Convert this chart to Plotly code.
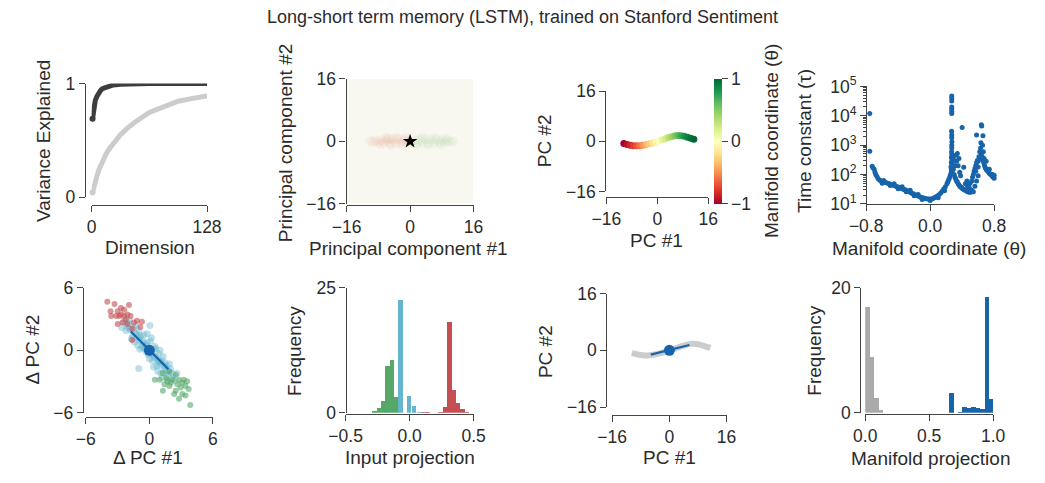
import plotly.graph_objects as go

W, H = 1045, 483

# ---------------- data ----------------
# Panel 1: variance explained
dims = [1, 2, 3, 4, 6, 8, 10, 12, 16, 20, 24, 32, 40, 48, 64, 80, 96, 112, 128]
var_lstm = [0.69, 0.76, 0.81, 0.85, 0.89, 0.92, 0.94, 0.955, 0.97, 0.98, 0.988, 0.995, 0.998, 0.999, 1.0, 1.0, 1.0, 1.0, 1.0]
var_shuffled = [0.04, 0.08, 0.11, 0.14, 0.19, 0.24, 0.28, 0.31, 0.38, 0.43, 0.47, 0.55, 0.61, 0.66, 0.745, 0.80, 0.845, 0.87, 0.89]

# Panel 2: faint state clouds in PC space
cloud_neg_x = [-10.0, -9.3, -8.6, -7.9, -7.2, -6.5, -5.8, -5.1, -4.4, -3.7, -3.0, -2.3, -1.6, -0.9,
               -0.3, -6.0, -4.8, -3.4, -2.0, -1.0, -7.4, -5.4]
cloud_neg_y = [0.0, -0.2, 0.2, -0.3, 0.3, -0.4, 0.3, -0.5, 0.4, -0.5, 0.5, -0.4, 0.4, -0.3,
               0.1, 0.9, -1.0, 1.0, -0.9, 0.8, -0.8, 0.7]
cloud_pos_x = [0.4, 1.1, 1.8, 2.5, 3.2, 3.9, 4.6, 5.3, 6.0, 6.7, 7.4, 8.1, 8.8, 9.5, 10.2,
               10.9, 1.5, 3.0, 4.5, 6.2, 7.8, 9.0]
cloud_pos_y = [-0.3, 0.3, -0.4, 0.4, -0.5, 0.5, -0.4, 0.4, -0.5, 0.4, -0.3, 0.3, -0.3, 0.2,
               -0.2, 0.1, -1.0, 1.0, -0.9, 0.9, -0.8, 0.7]

# Panel 3 / 7: line attractor in PC space
curve_x = [-10.5, -9.5, -8.5, -7.5, -6.5, -5.5, -4.5, -3.5, -2.5, -1.5, -0.5, 0.5,
           1.5, 2.5, 3.5, 4.5, 5.5, 6.5, 7.5, 8.5, 9.5, 10.5, 11.5]
curve_y = [-0.7, -1.0, -1.25, -1.4, -1.45, -1.4, -1.25, -1.05, -0.8, -0.5, -0.2, 0.15,
           0.5, 0.85, 1.2, 1.5, 1.75, 1.85, 1.8, 1.6, 1.3, 1.0, 0.7]
curve_theta = [-1.0, -0.92, -0.84, -0.76, -0.68, -0.58, -0.48, -0.38, -0.28, -0.18, -0.08, 0.02,
               0.12, 0.22, 0.32, 0.42, 0.52, 0.62, 0.72, 0.8, 0.88, 0.95, 1.0]

# Panel 4: time constants along manifold
tau_x = [-0.755, -0.755, -0.725, -0.715, -0.70, -0.69, -0.68, -0.665, -0.65, -0.63, -0.61, -0.59,
         -0.57, -0.55, -0.53, -0.51, -0.49, -0.47, -0.45, -0.43, -0.41, -0.39, -0.37, -0.35,
         -0.33, -0.31, -0.29, -0.27, -0.25, -0.23, -0.21, -0.19, -0.17, -0.15, -0.13, -0.11,
         -0.09, -0.07, -0.05, -0.03, -0.01, 0.01, 0.03, 0.05, 0.07, 0.09, 0.11, 0.13, 0.15,
         0.17, 0.19, 0.21, 0.22, 0.23, 0.24, 0.25, 0.26,
         -0.60, -0.50, -0.40, -0.30, -0.20, -0.10, 0.00, 0.10, 0.18, -0.58, -0.45, -0.35, -0.25, -0.15,
         0.27, 0.27, 0.27, 0.27, 0.27, 0.27, 0.27, 0.268, 0.27, 0.27, 0.272, 0.27, 0.27, 0.268,
         0.27, 0.266, 0.272, 0.264, 0.275, 0.26, 0.28, 0.265, 0.275,
         0.29, 0.29, 0.30, 0.30, 0.31, 0.31, 0.32, 0.32, 0.33, 0.33, 0.34, 0.34, 0.35, 0.35,
         0.36, 0.36, 0.37, 0.37, 0.38, 0.38, 0.39, 0.40, 0.40, 0.41, 0.42, 0.42, 0.43, 0.44,
         0.44, 0.45, 0.46, 0.47, 0.47, 0.48, 0.49, 0.49, 0.50, 0.51, 0.52, 0.53, 0.54,
         0.46, 0.48, 0.50, 0.52, 0.53, 0.54, 0.55, 0.56, 0.57, 0.57, 0.58, 0.58, 0.59, 0.60,
         0.60, 0.61, 0.62, 0.62, 0.63, 0.635, 0.64, 0.645, 0.64, 0.65, 0.655, 0.66, 0.66,
         0.665, 0.67, 0.675, 0.68, 0.69, 0.70, 0.70, 0.71, 0.72, 0.73, 0.74, 0.74, 0.75,
         0.76, 0.77, 0.78, 0.78, 0.79, 0.80, 0.80, 0.56, 0.58, 0.60]
tau_y = [12000, 620, 190, 170, 150, 120, 100, 85, 72, 64, 60, 56,
         55, 52, 50, 48, 46, 44, 42, 40, 38, 37, 35, 33,
         31, 30, 28, 27, 25, 23, 22, 20.5, 19.5, 18.5, 17.5, 16.5,
         16, 15.5, 15, 14.5, 14.5, 14.5, 15, 16, 17, 18.5, 20.5, 23, 27,
         32, 38, 48, 55, 65, 75, 90, 110,
         50, 42, 33, 26, 19, 14, 13, 16, 28, 62, 48, 38, 29, 21,
         47000, 40000, 32000, 20000, 17000, 14000, 12000, 3000, 2200, 1800, 1300, 1000, 800, 600,
         480, 380, 300, 250, 220, 180, 160, 140, 130,
         400, 150, 300, 100, 200, 80, 450, 70, 280, 60, 520, 55, 200, 48,
         350, 45, 120, 40, 90, 38, 36, 4000, 34, 33, 178, 31, 30, 48,
         29, 28, 27, 40, 26, 26, 35, 25, 25, 26, 29, 26, 26,
         60, 45, 50, 60, 80, 100, 130, 160, 200, 130, 2200, 250, 300, 280,
         180, 400, 350, 600, 800, 1200, 5000, 4500, 500, 400, 1000, 2100, 300,
         600, 250, 350, 200, 170, 280, 150, 140, 130, 125, 150, 110, 105,
         100, 95, 100, 85, 80, 75, 95, 40, 60, 90]

# Panel 5: state changes in PC space
dpc_all_x = [-2.4, -2.0, -1.8, -1.5, -1.2, -1.0, -0.8, -0.6, -0.4, -0.2, 0.0, 0.2, 0.4, 0.6, 0.8, 1.0,
             1.2, 1.4, 1.6, 1.8, 2.0, 2.2, 2.4, -1.6, -1.3, -1.0, -0.7, -0.5, -0.3, 0.1, 0.3, 0.5,
             0.7, 0.9, 1.1, 1.3, 1.5, 1.7, -2.2, -1.9, -0.9, 0.0, 0.2, 1.0, -2.6, -0.1, 0.6, -1.1,
             0.8, 2.6, 1.9, -1.4, -0.2, 0.4, 1.2, -1.0, 0.06, -2.1, -1.7, -0.5, 0.9, 1.6, 2.1,
             -1.4, -0.9, -0.3, 0.3, 0.9, 1.4, -1.9, -1.1, -0.6, 0.5, 1.1, 1.8]
dpc_all_y = [2.8, 2.6, 2.0, 2.2, 1.6, 1.0, 1.4, 0.9, 0.4, 0.7, 0.2, -0.3, 0.1, -0.6, -0.9, -1.4,
             -1.0, -1.8, -2.0, -2.4, -1.8, -2.6, -2.9, 1.4, 2.4, 1.9, 0.3, 1.5, -0.1, 0.9, -1.0, 0.4,
             -1.5, -0.3, -2.2, -0.6, -1.2, -2.9, 1.9, 2.9, 0.1, -0.8, 1.2, 0.0, 2.2, -0.4, 0.2, 0.5,
             -2.0, -2.2, -1.3, 0.8, 1.6, -1.6, -2.6, -1.74, 2.38, 2.3, 1.1, 0.2, -1.0, -1.5, -2.2,
             1.7, 1.2, 0.5, -0.4, -1.1, -1.5, 2.1, 1.3, 0.7, -0.7, -1.2, -2.0]
dpc_neg_x = [-3.97, -3.29, -2.99, -3.66, -2.68, -2.38, -1.92, -1.77, -2.23, -2.53, -2.99, -2.07,
             -1.46, -1.62, -1.16, -0.70, -1.62, -0.85, -2.07, -2.84, -3.14, -2.68, -2.38, -3.60]
dpc_neg_y = [4.67, 4.45, 3.75, 3.75, 4.06, 3.90, 4.36, 3.29, 2.99, 2.68, 2.53, 2.53,
             2.68, 2.07, 2.84, 2.75, 1.00, 2.23, 3.45, 3.29, 3.29, 3.45, 3.29, 3.29]
dpc_pos_x = [0.52, 1.28, 1.89, 2.50, 2.81, 3.11, 3.42, 3.72, 3.11, 2.50, 1.89, 1.43, 0.98,
             1.28, 2.20, 1.59, 2.65, 3.42, 3.87, 2.81, 3.26, 2.35, 2.04, 1.74, 2.96, 3.57]
dpc_pos_y = [-2.81, -2.20, -2.04, -2.35, -2.81, -3.11, -3.42, -3.72, -4.18, -3.87, -3.42, -3.26,
             -2.81, -3.87, -2.81, -2.65, -3.26, -4.33, -5.25, -4.64, -2.81, -4.18, -3.11, -2.96,
             -3.57, -2.96]
readout_x = [-1.75, 1.8]
readout_y = [1.8, -1.8]

# Panel 6: input projection histograms
hist_pos_x = [-0.278, -0.243, -0.208, -0.175, -0.14, -0.107]
hist_pos_h = [0.4, 1.0, 2.4, 9.5, 10.6, 3.3]
hist_neu_x = [-0.075, -0.04, -0.006, 0.031, 0.069]
hist_neu_h = [22.7, 0.0, 3.4, 1.5, 0.2]
hist_neg_x = [0.107, 0.142, 0.239, 0.274, 0.31, 0.345, 0.377, 0.41, 0.445]
hist_neg_h = [0.2, 0.2, 0.3, 1.3, 18.3, 4.6, 2.0, 0.8, 0.25]

# Panel 7: input direction in PC space
input_x = [-5.2, 5.6]
input_y = [-1.2, 1.5]

# Panel 8: manifold projection histograms
proj_shuf_x = [0.018, 0.053, 0.088, 0.124]
proj_shuf_h = [17.0, 8.9, 2.4, 0.5]
proj_real_x = [0.676, 0.742, 0.777, 0.812, 0.848, 0.883, 0.918, 0.953, 0.986]
proj_real_h = [3.2, 0.15, 0.9, 0.77, 0.9, 0.77, 0.6, 18.5, 2.3]

# ---------------- styling ----------------
FONT = "Liberation Sans, Arial, Helvetica, sans-serif"
TXT = "#2b2b2b"
AX = "#444444"
BLUE = "#1764ab"
RED = "#c44e52"
GREEN = "#55a868"
CYAN = "#64b5cd"
TICK_SIZE = 17.5
LABEL_SIZE = 19


def xdom(a, b):
    return [a / W, b / W]


def ydom(top, bottom):
    return [1 - bottom / H, 1 - top / H]


def axis(dom, rng, pos, tickvals, ticktext=None, **kw):
    d = dict(domain=dom, range=rng, anchor="free", position=pos, showline=True,
             linecolor=AX, linewidth=1.3, ticks="outside", ticklen=6, tickwidth=1.3,
             tickcolor=AX, tickvals=tickvals,
             tickfont=dict(size=TICK_SIZE, color=TXT, family=FONT),
             showgrid=False, zeroline=False, fixedrange=True)
    if ticktext is not None:
        d["ticktext"] = ticktext
    d.update(kw)
    return d


fig = go.Figure()

# Panel 1
fig.add_trace(go.Scatter(x=dims, y=var_shuffled, mode="lines", xaxis="x", yaxis="y",
                         line=dict(color="#cccccc", width=5), cliponaxis=False))
fig.add_trace(go.Scatter(x=dims[:1], y=var_shuffled[:1], mode="markers", xaxis="x", yaxis="y",
                         marker=dict(color="#cccccc", size=6), cliponaxis=False))
fig.add_trace(go.Scatter(x=dims, y=var_lstm, mode="lines", xaxis="x", yaxis="y",
                         line=dict(color="#3d3d3d", width=5), cliponaxis=False))
fig.add_trace(go.Scatter(x=dims[:1], y=var_lstm[:1], mode="markers", xaxis="x", yaxis="y",
                         marker=dict(color="#3d3d3d", size=6), cliponaxis=False))

# Panel 2
fig.add_trace(go.Scatter(x=cloud_neg_x, y=cloud_neg_y, mode="markers", xaxis="x2", yaxis="y2",
                         marker=dict(color="#e07a5a", size=10, opacity=0.06, line=dict(width=0))))
fig.add_trace(go.Scatter(x=cloud_pos_x, y=cloud_pos_y, mode="markers", xaxis="x2", yaxis="y2",
                         marker=dict(color="#7fa86a", size=10, opacity=0.05, line=dict(width=0))))
fig.add_trace(go.Scatter(x=[0], y=[0], mode="markers", xaxis="x2", yaxis="y2",
                         marker=dict(color="black", size=11, symbol="star")))

# Panel 3
fig.add_trace(go.Scatter(x=curve_x, y=curve_y, mode="markers", xaxis="x3", yaxis="y3",
                         marker=dict(color=curve_theta, colorscale="RdYlGn", cmin=-1, cmax=1, size=7,
                                     line=dict(width=0),
                                     colorbar=dict(x=719 / W, xanchor="left", y=1 - 201 / H,
                                                   yanchor="bottom", len=131 / H, lenmode="fraction",
                                                   thickness=8, xpad=0, ypad=0, outlinewidth=0,
                                                   tickvals=[-1, 0, 1], ticktext=["\u22121", "0", "1"],
                                                   ticks="outside", ticklen=6, tickwidth=1.3,
                                                   tickcolor=AX,
                                                   tickfont=dict(size=TICK_SIZE, color=TXT, family=FONT)),
                                     showscale=True),
                         cliponaxis=False))

# Panel 4
fig.add_trace(go.Scatter(x=tau_x, y=tau_y, mode="markers", xaxis="x4", yaxis="y4",
                         marker=dict(color=BLUE, size=5, line=dict(width=0)), cliponaxis=False))

# Panel 5
fig.add_trace(go.Scatter(x=dpc_all_x, y=dpc_all_y, mode="markers", xaxis="x5", yaxis="y5",
                         marker=dict(color=CYAN, size=7, opacity=0.42, line=dict(width=0))))
fig.add_trace(go.Scatter(x=dpc_neg_x, y=dpc_neg_y, mode="markers", xaxis="x5", yaxis="y5",
                         marker=dict(color=RED, size=6, opacity=0.6, line=dict(width=0))))
fig.add_trace(go.Scatter(x=dpc_pos_x, y=dpc_pos_y, mode="markers", xaxis="x5", yaxis="y5",
                         marker=dict(color=GREEN, size=6, opacity=0.6, line=dict(width=0))))
fig.add_trace(go.Scatter(x=readout_x, y=readout_y, mode="lines", xaxis="x5", yaxis="y5",
                         line=dict(color=BLUE, width=2.2)))
fig.add_trace(go.Scatter(x=[0], y=[0], mode="markers", xaxis="x5", yaxis="y5",
                         marker=dict(color=BLUE, size=11)))

# Panel 6
for xs, hs, col in [(hist_pos_x, hist_pos_h, GREEN), (hist_neu_x, hist_neu_h, CYAN),
                    (hist_neg_x, hist_neg_h, RED)]:
    fig.add_trace(go.Bar(x=xs, y=hs, width=0.035, xaxis="x6", yaxis="y6",
                         marker=dict(color=col, line=dict(width=0))))

# Panel 7
fig.add_trace(go.Scatter(x=curve_x, y=curve_y, mode="lines", xaxis="x7", yaxis="y7",
                         line=dict(color="#cccccc", width=6, shape="spline")))
fig.add_trace(go.Scatter(x=input_x, y=input_y, mode="lines", xaxis="x7", yaxis="y7",
                         line=dict(color=BLUE, width=2.2)))
fig.add_trace(go.Scatter(x=[0], y=[0], mode="markers", xaxis="x7", yaxis="y7",
                         marker=dict(color=BLUE, size=11)))

# Panel 8
fig.add_trace(go.Bar(x=proj_shuf_x, y=proj_shuf_h, width=0.035, xaxis="x8", yaxis="y8",
                     marker=dict(color="#aaaaaa", line=dict(width=0))))
fig.add_trace(go.Bar(x=proj_real_x, y=proj_real_h, width=0.034, xaxis="x8", yaxis="y8",
                     marker=dict(color=BLUE, line=dict(width=0))))

pm16 = [-16, 0, 16]
pm16t = ["\u221216", "0", "16"]
minor_log = [m * 10 ** k for k in range(1, 5) for m in range(2, 10)]

layout = dict(
    width=W, height=H, margin=dict(l=0, r=0, t=0, b=0),
    paper_bgcolor="white", plot_bgcolor="white", showlegend=False,
    font=dict(family=FONT, size=17, color=TXT),
    barmode="overlay", bargap=0,
    title=dict(text="Long-short term memory (LSTM), trained on Stanford Sentiment",
               x=0.5, xanchor="center", y=1 - 17 / H, yanchor="middle",
               font=dict(size=18, color=TXT, family=FONT)),
    xaxis=axis(xdom(77, 196), [0, 128], 1 - 202 / H, [0, 128]),
    yaxis=axis(ydom(75, 194), [0, 1], 70 / W, [0, 1]),
    xaxis2=axis(xdom(340, 471), [-16, 16], 1 - 202 / H, pm16, pm16t),
    yaxis2=axis(ydom(70, 201), [-16, 16], 339 / W, pm16, pm16t),
    xaxis3=axis(xdom(608, 713), [-16, 16], 1 - 194 / H, pm16, pm16t),
    yaxis3=axis(ydom(83, 188), [-16, 16], 607 / W, pm16, pm16t),
    xaxis4=axis(xdom(876, 1008), [-0.8, 0.8], 1 - 201 / H, [-0.8, 0, 0.8],
                ["\u22120.8", "0.0", "0.8"]),
    yaxis4=axis(ydom(78, 201), [1, 5], 876 / W, [10, 100, 1000, 10000, 100000],
                ["10<sup>1</sup>", "10<sup>2</sup>", "10<sup>3</sup>", "10<sup>4</sup>", "10<sup>5</sup>"],
                type="log",
                minor=dict(ticks="outside", ticklen=3, tickwidth=1, tickcolor=AX,
                           tickvals=minor_log, showgrid=False)),
    xaxis5=axis(xdom(71, 202), [-6, 6], 1 - 424 / H, [-6, 0, 6], ["\u22126", "0", "6"]),
    yaxis5=axis(ydom(289, 420), [-6, 6], 68 / W, [-6, 0, 6], ["\u22126", "0", "6"]),
    xaxis6=axis(xdom(339, 471), [-0.5, 0.5], 1 - 421 / H, [-0.5, 0, 0.5],
                ["\u22120.5", "0.0", "0.5"]),
    yaxis6=axis(ydom(289, 420), [0, 25], 339 / W, [0, 25]),
    xaxis7=axis(xdom(614, 732), [-16, 16], 1 - 422 / H, pm16, pm16t),
    yaxis7=axis(ydom(295, 414), [-16, 16], 608 / W, pm16, pm16t),
    xaxis8=axis(xdom(875, 1007), [0, 1], 1 - 421 / H, [0, 0.5, 1], ["0.0", "0.5", "1.0"]),
    yaxis8=axis(ydom(289, 420), [0, 20], 870 / W, [0, 20]),
)
fig.update_layout(**layout)

# cream image background for panel 2
fig.add_shape(type="rect", xref="x2", yref="y2", x0=-16, x1=16, y0=-16, y1=16,
              fillcolor="#f8f7f0", line=dict(width=0), layer="below")

labels = [
    ("Variance Explained", 28, 135, -90), ("Dimension", 137, 247, 0),
    ("Principal component #2", 277, 137, -90), ("Principal component #1", 404, 248, 0),
    ("PC #2", 545, 135, -90), ("PC #1", 660, 239, 0),
    ("Manifold coordinate (\u03b8)", 779, 135, -90),
    ("Time constant (\u03c4)", 813, 135, -90), ("Manifold coordinate (\u03b8)", 941, 248, 0),
    ("\u0394 PC #2", 16, 354, -90), ("\u0394 PC #1", 135, 467, 0),
    ("Frequency", 287, 355, -90), ("Input projection", 405, 467, 0),
    ("PC #2", 545, 356, -90), ("PC #1", 673, 467, 0),
    ("Frequency", 823, 355, -90), ("Manifold projection", 942, 468, 0),
]
for text, px, py, ang in labels:
    fig.add_annotation(text=text, x=px / W, y=1 - py / H, xref="paper", yref="paper",
                       xanchor="center", yanchor="middle", showarrow=False, textangle=ang,
                       font=dict(size=LABEL_SIZE, color=TXT, family=FONT))

fig.write_html("out.html")
